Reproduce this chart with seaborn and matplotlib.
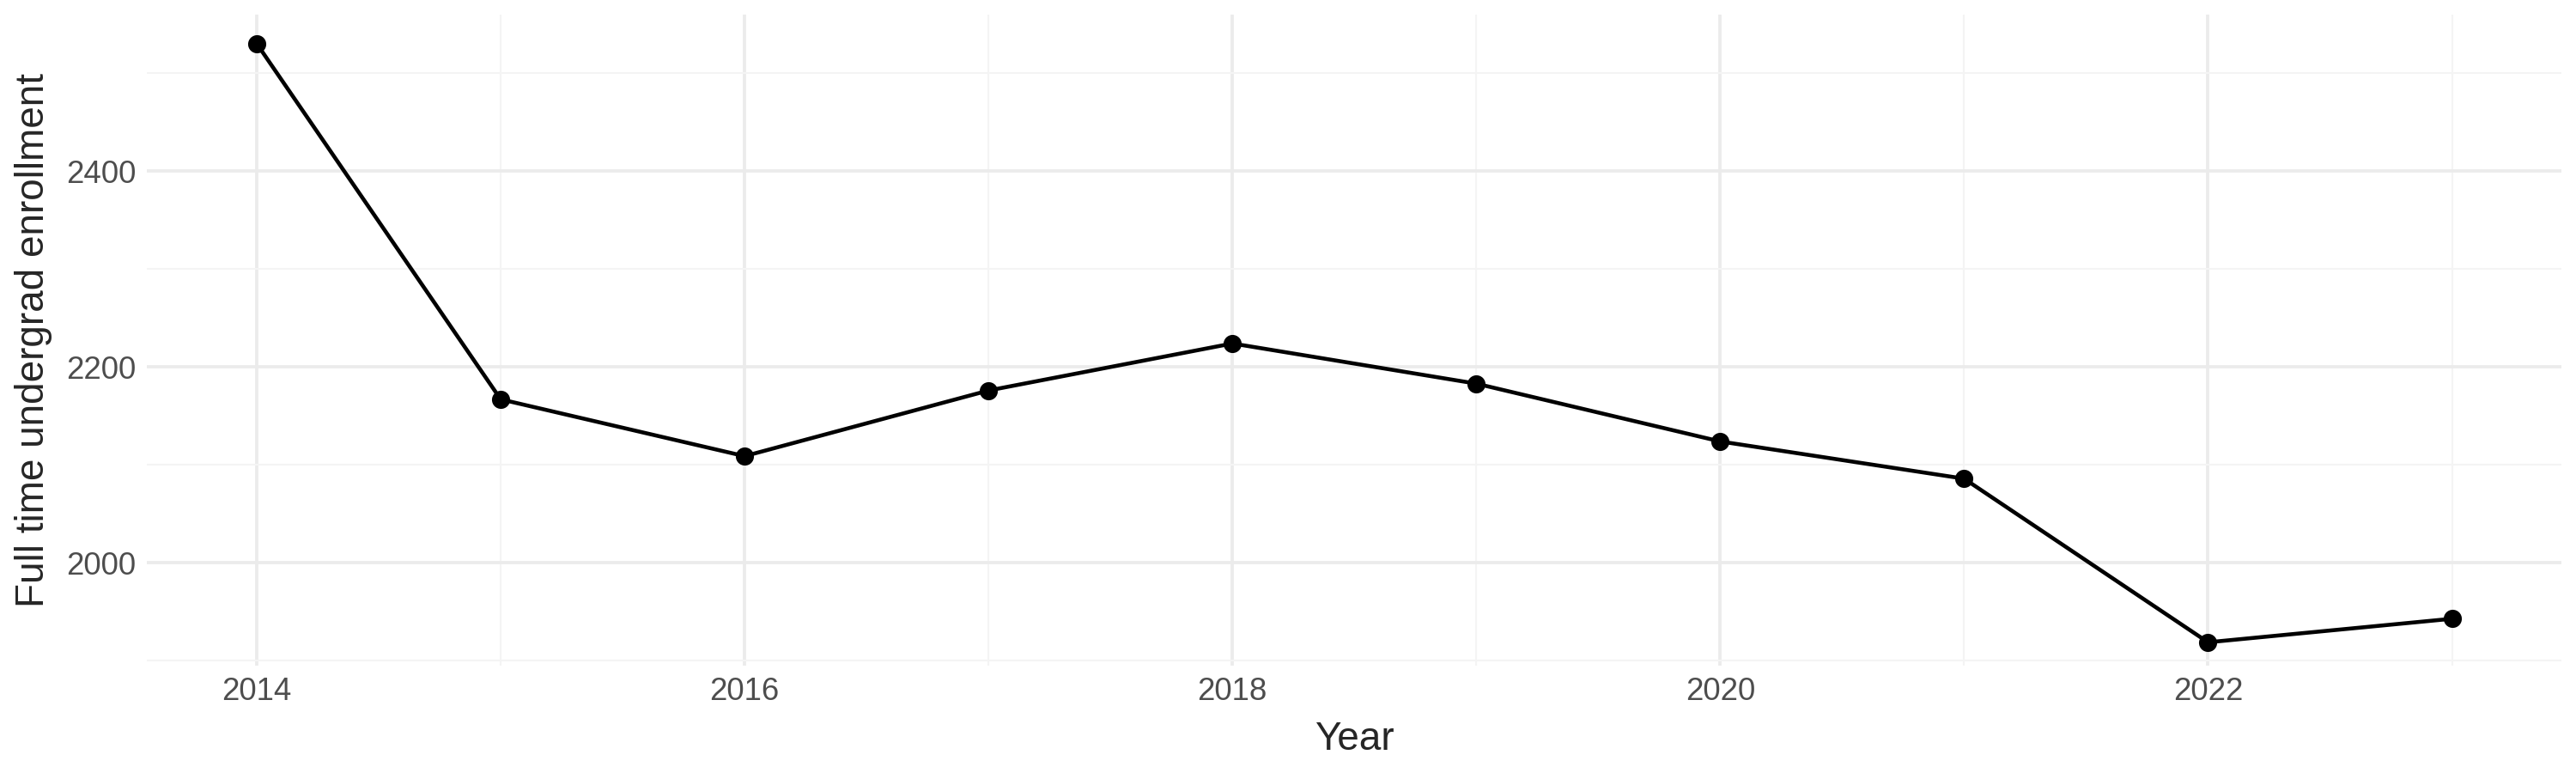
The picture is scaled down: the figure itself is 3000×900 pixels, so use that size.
import matplotlib
matplotlib.use("Agg")
import matplotlib.pyplot as plt
import pandas as pd
import seaborn as sns
from matplotlib.ticker import MultipleLocator

years = [2014, 2015, 2016, 2017, 2018, 2019, 2020, 2021, 2022, 2023]
enrollment = [2530, 2167, 2109, 2176, 2224, 2183, 2124, 2086, 1919, 1943]

df = pd.DataFrame({"Year": years, "Enrollment": enrollment})

sns.set_style("white")
plt.rcParams["font.family"] = ["Liberation Sans", "DejaVu Sans"]

fig, ax = plt.subplots(figsize=(10, 3), dpi=300)
sns.lineplot(data=df, x="Year", y="Enrollment", color="black", linewidth=1.1, ax=ax)
sns.scatterplot(data=df, x="Year", y="Enrollment", color="black", s=22, edgecolor="black", zorder=3, ax=ax)

ax.set_xlim(2013.55, 2023.45)
ax.set_ylim(1895, 2560)
ax.xaxis.set_major_locator(MultipleLocator(2))
ax.xaxis.set_minor_locator(MultipleLocator(1))
ax.yaxis.set_major_locator(MultipleLocator(200))
ax.yaxis.set_minor_locator(MultipleLocator(100))
ax.grid(which="major", color="#ebebeb", linewidth=0.9)
ax.grid(which="minor", color="#f4f4f4", linewidth=0.5)
ax.set_axisbelow(True)
for s in ax.spines.values():
    s.set_visible(False)
ax.tick_params(which="both", length=0, labelsize=8.8, labelcolor="#4d4d4d", pad=3)
ax.set_xlabel("Year", fontsize=11)
ax.set_ylabel("Full time undergrad enrollment", fontsize=11)

plt.tight_layout(pad=0.4)
fig.savefig("out.png", dpi=300)
